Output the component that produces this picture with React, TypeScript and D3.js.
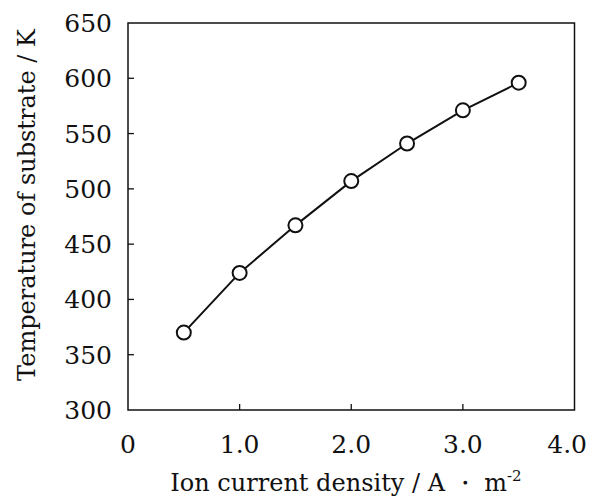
import React from "react";
import * as d3 from "d3";

const xValues = [0.5, 1.0, 1.5, 2.0, 2.5, 3.0, 3.5];
const yValues = [370, 424, 467, 507, 541, 571, 596];
const xTicks = [0, 1, 2, 3, 4];
const xTickLabels = ["0", "1.0", "2.0", "3.0", "4.0"];
const yTicks = [300, 350, 400, 450, 500, 550, 600, 650];
const xTitle = "Ion current density / A ・ m";
const xTitleSup = "-2";
const yTitle = "Temperature of substrate / K";

export default function App() {
  const W = 589, H = 499;
  const left = 128, right = 574.5, top = 23, bottom = 410;
  const x = d3.scaleLinear().domain([0, 4]).range([left, right]);
  const y = d3.scaleLinear().domain([300, 650]).range([bottom, top]);
  const line = d3.line<number>().x((_, i) => x(xValues[i])).y((d) => y(d));
  const tickFont = "'DejaVu Serif', serif";
  const titleFont = "'DejaVu Serif', serif";
  return (
    <svg width={W} height={H} style={{ position: "absolute", left: 0, top: 0, background: "#fff" }}>
      <rect x={0} y={0} width={W} height={H} fill="#fff" />
      <path d={`M${left},${top}H${right}V${bottom}H${left}Z`} fill="none" stroke="#111" strokeWidth={1.5} />
      {yTicks.map((t) => (
        <g key={t}>
          {t !== 300 && t !== 650 && (
            <line x1={left} x2={left + 6} y1={y(t)} y2={y(t)} stroke="#111" strokeWidth={1.3} />
          )}
          <text x={112} y={y(t)} dy="0.36em" textAnchor="end" fontFamily={tickFont} fontSize={25} fill="#111">
            {t}
          </text>
        </g>
      ))}
      {xTicks.map((t, i) => (
        <g key={t}>
          {t !== 0 && t !== 4 && (
            <line x1={x(t)} x2={x(t)} y1={bottom} y2={bottom - 6} stroke="#111" strokeWidth={1.3} />
          )}
          <text
            x={i === 4 ? 587 : x(t)}
            y={453}
            textAnchor={i === 4 ? "end" : "middle"}
            fontFamily={tickFont}
            fontSize={25}
            fill="#111"
          >
            {xTickLabels[i]}
          </text>
        </g>
      ))}
      <path d={line(yValues) || ""} fill="none" stroke="#111" strokeWidth={2} />
      {yValues.map((v, i) => (
        <circle key={i} cx={x(xValues[i])} cy={y(v)} r={7} fill="#fff" stroke="#111" strokeWidth={2} />
      ))}
      <text x={346} y={491} textAnchor="middle" fontFamily={titleFont} fontSize={24} fill="#111">
        {xTitle}
        <tspan fontSize={15} dy={-10}>{xTitleSup}</tspan>
      </text>
      <text
        transform={`translate(35,205) rotate(-90)`}
        textAnchor="middle"
        fontFamily={titleFont}
        fontSize={24}
        fill="#111"
      >
        {yTitle}
      </text>
    </svg>
  );
}
